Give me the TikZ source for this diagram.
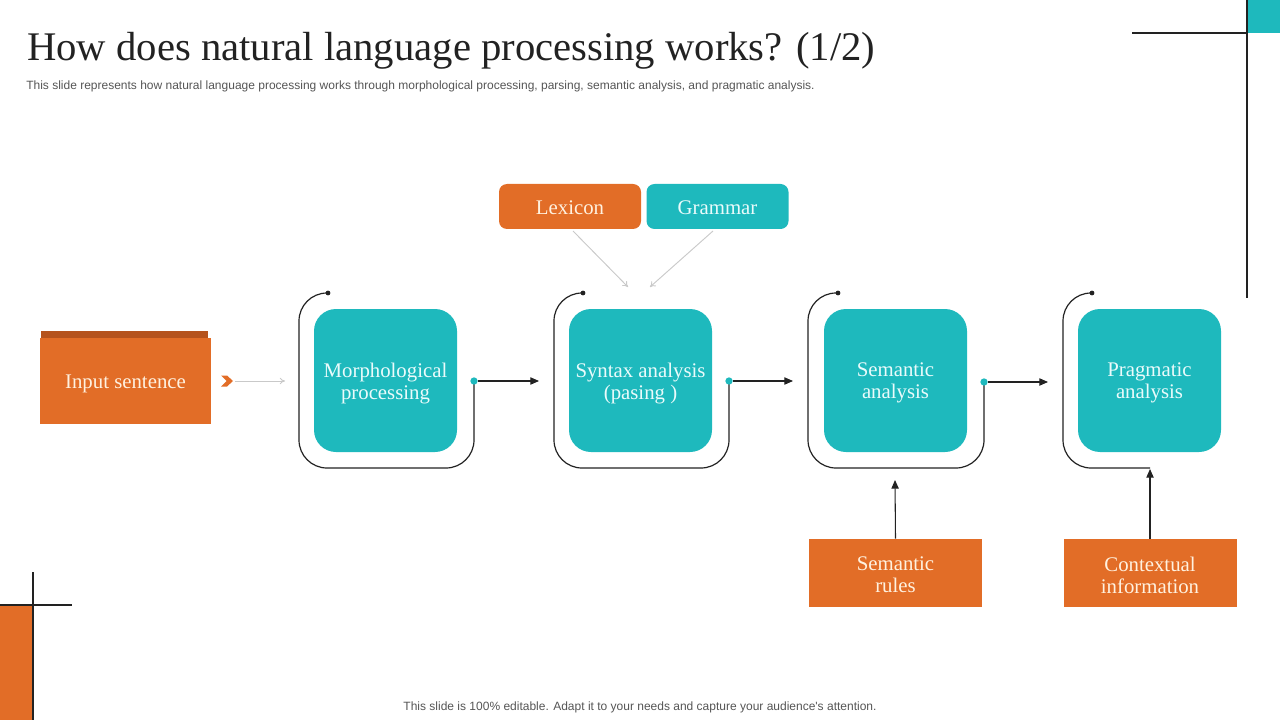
\documentclass[tikz,border=0pt]{standalone}
\usepackage{fontspec}
\setmainfont{Liberation Serif}
\newfontfamily\sansf{Liberation Sans}
\usetikzlibrary{arrows.meta}
\definecolor{teal1}{HTML}{1EB9BD}
\definecolor{orng}{HTML}{E26D27}
\definecolor{orngdk}{HTML}{B5531D}
\definecolor{ink}{HTML}{222222}
\definecolor{lgray}{HTML}{C9C9C9}
\definecolor{subgray}{HTML}{555555}
\definecolor{creamtxt}{HTML}{FFF1DF}
\definecolor{tealtxt}{HTML}{EAFBFB}
\tikzset{
  boxfont/.style={font=\fontsize{15.6pt}{16.5pt}\selectfont, align=center, inner sep=0pt},
  modbox/.style={fill=teal1, rounded corners=16.5pt, minimum width=107.25pt, minimum height=107.25pt, inner sep=0pt},
  modtext/.style={boxfont, text=tealtxt},
  orgtext/.style={boxfont, text=creamtxt},
  topbox/.style={rounded corners=6pt, minimum width=106.5pt, minimum height=33.75pt, inner sep=0pt},
  botbox/.style={fill=orng, minimum width=129.75pt, minimum height=51pt, inner sep=0pt},
  bracket/.style={draw=ink, line width=0.9pt, rounded corners=21pt},
  flowarrow/.style={draw=ink, line width=0.8pt, -{Triangle[length=6.5pt,width=5.5pt]}},
  feedarrow/.style={draw=lgray, line width=0.7pt, -{To[length=4pt,width=5pt]}},
  inkdot/.style={circle, fill=ink, inner sep=0pt, minimum size=3.6pt},
  tealdot/.style={circle, fill=teal1, inner sep=0pt, minimum size=5.5pt},
  frameline/.style={draw=ink, line width=0.8pt}
}
\begin{document}
\begin{tikzpicture}[x=0.75pt,y=-0.75pt]
\useasboundingbox (0,0) rectangle (1280,720);
% corner decorations
\fill[teal1] (1247,0) rectangle (1280,33);
\draw[frameline] (1132,33) -- (1247,33);
\draw[frameline] (1247,0) -- (1247,298);
\fill[orng] (0,605) rectangle (33,720);
\draw[frameline] (33,572) -- (33,720);
\draw[frameline] (0,605) -- (72,605);
% title
\node[anchor=base west, inner sep=0pt, text=ink, font=\fontsize{30.5pt}{34pt}\selectfont] (title) at (27,61) {How does natural language processing works? (1/2)};
\node[anchor=base west, inner sep=0pt, text=subgray, font=\sansf\fontsize{9pt}{11pt}\selectfont] (sub) at (26,90) {This slide represents how natural language processing works through morphological processing, parsing, semantic analysis, and pragmatic analysis.};
% input sentence
\fill[orngdk] (41,331) rectangle (208,340);
\node[fill=orng, minimum width=128.25pt, minimum height=64.5pt, inner sep=0pt] (inp) at (125.5,381) {};
\node[orgtext] (inpt) at ([yshift=-2pt]inp.center) {Input sentence};
\fill[orng] (221,375.5) -- (227,375.5) -- (233,381) -- (227,386.5) -- (221,386.5) -- (226.5,381) -- cycle;
\coordinate (chev) at (235,381);
\coordinate (in1) at (285,381);
\draw[feedarrow] (chev) -- (in1);
% modules
\node[modbox] (m1) at (385.5,380.5) {};
\node[modbox] (m2) at (640.5,380.5) {};
\node[modbox] (m3) at (895.5,380.5) {};
\node[modbox] (m4) at (1149.5,380.5) {};
\node[modtext] (m1t) at ([yshift=-2pt]m1.center) {Morphological\\processing};
\node[modtext] (m2t) at ([yshift=-2pt]m2.center) {Syntax analysis\\(pasing )};
\node[modtext] (m3t) at ([yshift=-2pt]m3.center) {Semantic\\analysis};
\node[modtext] (m4t) at ([yshift=-2pt]m4.center) {Pragmatic\\analysis};
% brackets
\node[inkdot] (t1) at (328,293) {};
\node[inkdot] (t2) at (583,293) {};
\node[inkdot] (t3) at (838,293) {};
\node[inkdot] (t4) at (1092,293) {};
\coordinate (o1) at (474,381);
\coordinate (o2) at (729,381);
\coordinate (o3) at (984,382);
\draw[bracket] (t1.center) -| (299,468) -| (o1);
\draw[bracket] (t2.center) -| (554,468) -| (o2);
\draw[bracket] (t3.center) -| (808,468) -| (o3);
\draw[bracket] (t4.center) -| (1063,468) -- (1150,468);
\node[tealdot] (d1) at (o1) {};
\node[tealdot] (d2) at (o2) {};
\node[tealdot] (d3) at (o3) {};
\coordinate (e1) at (539,381);
\coordinate (e2) at (793,381);
\coordinate (e3) at (1048,382);
\draw[flowarrow] (d1) -- (e1);
\draw[flowarrow] (d2) -- (e2);
\draw[flowarrow] (d3) -- (e3);
% lexicon & grammar
\node[topbox, fill=orng] (lex) at (570,206.5) {};
\node[topbox, fill=teal1] (gram) at (717.5,206.5) {};
\node[orgtext] (lext) at ([yshift=-1pt]lex.center) {Lexicon};
\node[modtext] (gramt) at ([yshift=-1pt]gram.center) {Grammar};
\coordinate (lexa) at (573,231);
\coordinate (grama) at (713,231);
\coordinate (lexb) at (628,287);
\coordinate (gramb) at (650,287);
\draw[feedarrow] (lexa) -- (lexb);
\draw[feedarrow] (grama) -- (gramb);
% bottom boxes
\node[botbox] (sr) at (895.5,573) {};
\node[botbox] (ci) at (1150,573) {};
\node[orgtext] (srt) at ([yshift=-1.5pt]sr.center) {Semantic\\rules};
\node[orgtext] (cit) at ([yshift=-1.5pt]ci.center) {Contextual\\information};
\coordinate (sra) at (895,480);
\coordinate (cia) at (1150,469);
\draw[flowarrow] (sr.north) -- (sra);
\draw[flowarrow] (ci.north) -- (cia);
% footer
\node[anchor=base, inner sep=0pt, text=subgray, font=\sansf\fontsize{9pt}{11pt}\selectfont] (foot) at (640,710) {This slide is 100\% editable. Adapt it to your needs and capture your audience's attention.};
\end{tikzpicture}
\end{document}
